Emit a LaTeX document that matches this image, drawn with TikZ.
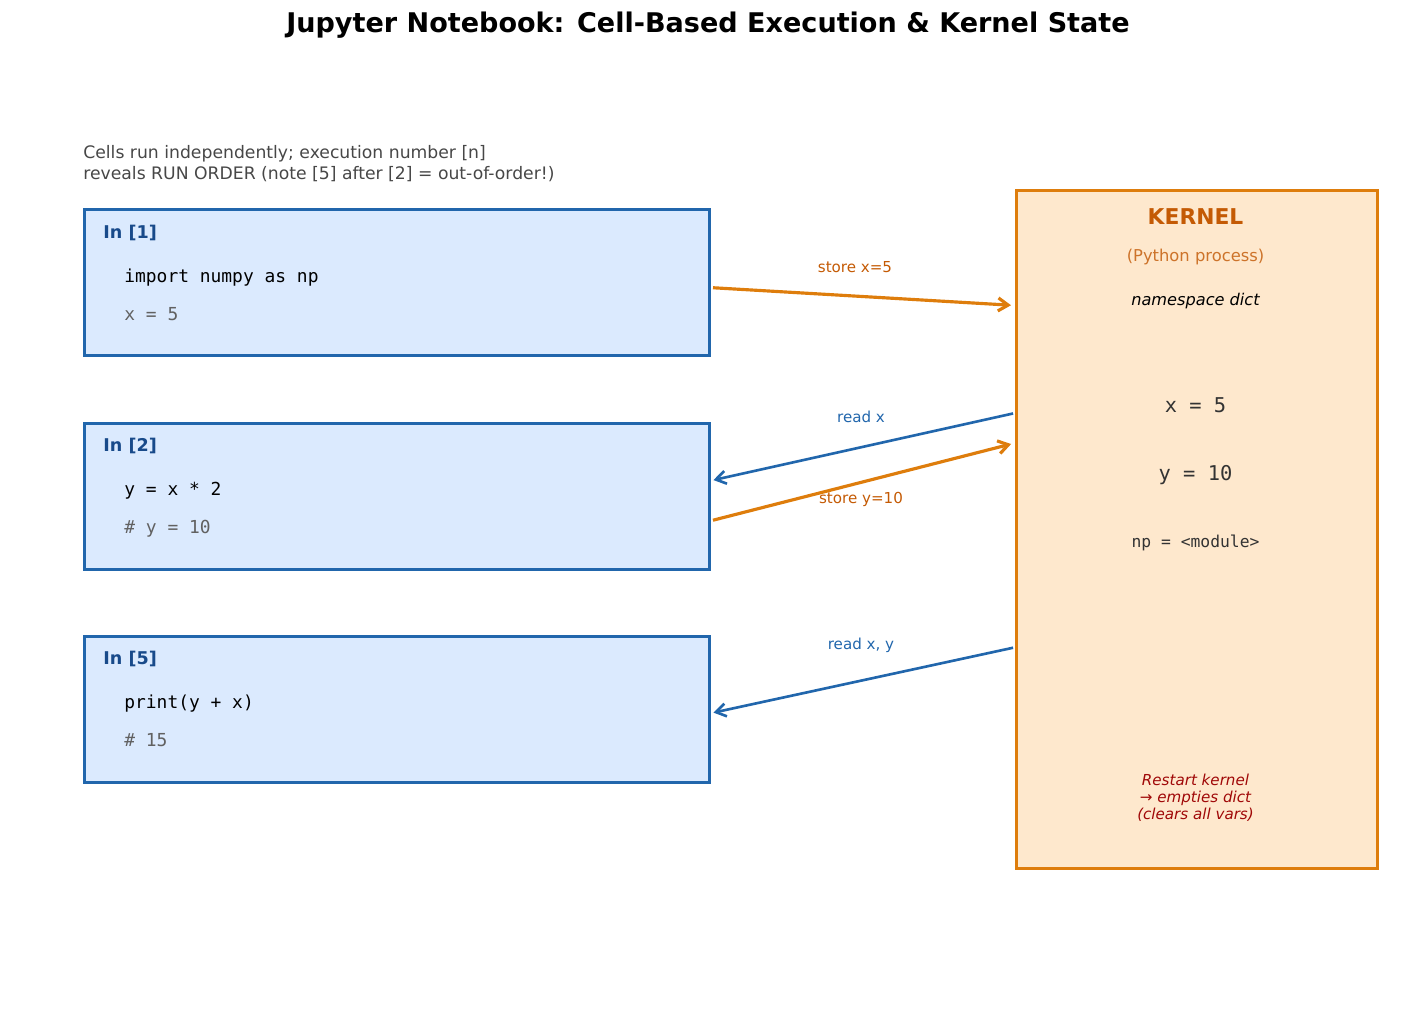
\documentclass[tikz,border=0pt]{standalone}
\usepackage{fontspec}
\setmainfont{DejaVu Sans}
\setmonofont{DejaVu Sans Mono}
\usetikzlibrary{calc,arrows.meta}

\definecolor{cellblue}{RGB}{33,102,172}
\definecolor{celltitle}{RGB}{24,74,138}
\definecolor{cellfill}{RGB}{219,234,254}
\definecolor{kernorange}{RGB}{222,125,12}
\definecolor{kerntitle}{RGB}{196,90,4}
\definecolor{kernfill}{RGB}{254,232,205}
\definecolor{restartred}{RGB}{160,8,8}

\tikzset{
	cellbox/.style={draw=cellblue, fill=cellfill, line width=1.8pt, inner sep=0pt,
		minimum width=12.5cm, minimum height=2.92cm, anchor=north west},
	kernelbox/.style={draw=kernorange, fill=kernfill, line width=1.8pt, inner sep=0pt,
		minimum width=7.22cm, minimum height=13.56cm, anchor=north west},
	inlabel/.style={anchor=base west, inner sep=0pt, text=celltitle, font=\fontsize{10}{12}\selectfont\bfseries},
	codeline/.style={anchor=base west, inner sep=0pt, font=\fontsize{10.2}{12}\selectfont\ttfamily},
	comment/.style={codeline, text=black!62},
	kerntext/.style={anchor=base, inner sep=0pt},
	storearrow/.style={draw=kernorange, line width=1.8pt, -{Straight Barb[length=2mm,width=2.6mm]}},
	readarrow/.style={draw=cellblue, line width=1.5pt, -{Straight Barb[length=2mm,width=2.6mm]}},
	storelabel/.style={text=kerntitle, font=\fontsize{8.6}{10}\selectfont},
	readlabel/.style={text=cellblue, font=\fontsize{8.6}{10}\selectfont}
}

\begin{document}
\begin{tikzpicture}[x=0.02cm, y=-0.02cm]
		%%%%% START %%%%%
		\useasboundingbox (0,0) rectangle (1417,1026);
		
		\node[font=\fontsize{15.4}{18}\selectfont\bfseries] (title) at (708,25) {Jupyter Notebook: Cell-Based Execution \& Kernel State};
		
		\node[anchor=west, align=left, inner sep=0pt, text=black!72, font=\fontsize{9.8}{12}\selectfont] (note) at (83,163.5) {Cells run independently; execution number [n]\\reveals RUN ORDER (note [5] after [2] = out-of-order!)};
		
		% cells
		\node[cellbox] (cell1) at (83,208) {};
		\node[inlabel] (in1) at (103,239) {In [1]};
		\node[codeline] (code1a) at (124,283) {import numpy as np};
		\node[comment] (code1b) at (124,321) {x = 5};
		
		\node[cellbox] (cell2) at (83,422) {};
		\node[inlabel] (in2) at (103,452) {In [2]};
		\node[codeline] (code2a) at (124,496) {y = x * 2};
		\node[comment] (code2b) at (124,534) {\# y = 10};
		
		\node[cellbox] (cell3) at (83,635) {};
		\node[inlabel] (in3) at (103,665) {In [5]};
		\node[codeline] (code3a) at (124,709) {print(y + x)};
		\node[comment] (code3b) at (124,747) {\# 15};
		
		% kernel
		\node[kernelbox] (kernel) at (1015,189) {};
		\node[kerntext, text=kerntitle, font=\fontsize{12.4}{15}\selectfont\bfseries] (ktitle) at (1195.5,225) {KERNEL};
		\node[kerntext, text=kerntitle!85!white, font=\fontsize{9.3}{11}\selectfont] (kproc) at (1195.5,262) {(Python process)};
		\node[kerntext, font=\fontsize{9.2}{11}\selectfont\itshape] (kdict) at (1195.5,306) {namespace dict};
		\node[kerntext, text=black!80, font=\fontsize{11.6}{14}\selectfont\ttfamily] (kvarx) at (1195.5,413) {x = 5};
		\node[kerntext, text=black!80, font=\fontsize{11.6}{14}\selectfont\ttfamily] (kvary) at (1195.5,481) {y = 10};
		\node[kerntext, text=black!80, font=\fontsize{9.3}{11}\selectfont\ttfamily] (kvarnp) at (1195.5,548) {np = <module>};
		\node[align=center, inner sep=0pt, text=restartred, font=\fontsize{8.6}{9.8}\selectfont\itshape] (krestart) at (1195.5,798) {Restart kernel\\→ empties dict\\(clears all vars)};
		
		% connectors
		\draw[storearrow, shorten <=0.04cm, shorten >=0.08cm] ($(cell1.north east)!0.534!(cell1.south east)$) -- ($(kernel.north west)!0.171!(kernel.south west)$);
		\node[storelabel] (lstore1) at (855,267) {store x=5};
		
		\draw[readarrow, shorten <=0.04cm, shorten >=0.05cm] ($(kernel.north west)!0.329!(kernel.south west)$) -- ($(cell2.north east)!0.393!(cell2.south east)$);
		\node[readlabel] (lread1) at (861,417) {read x};
		
		\draw[storearrow, shorten <=0.04cm, shorten >=0.08cm] ($(cell2.north east)!0.662!(cell2.south east)$) -- ($(kernel.north west)!0.373!(kernel.south west)$);
		\node[storelabel] (lstore2) at (861,499) {store y=10};
		
		\draw[readarrow, shorten <=0.04cm, shorten >=0.05cm] ($(kernel.north west)!0.673!(kernel.south west)$) -- ($(cell3.north east)!0.524!(cell3.south east)$);
		\node[readlabel] (lread2) at (861,645) {read x, y};
		
		%%%%% END %%%%%
\end{tikzpicture}
\end{document}
